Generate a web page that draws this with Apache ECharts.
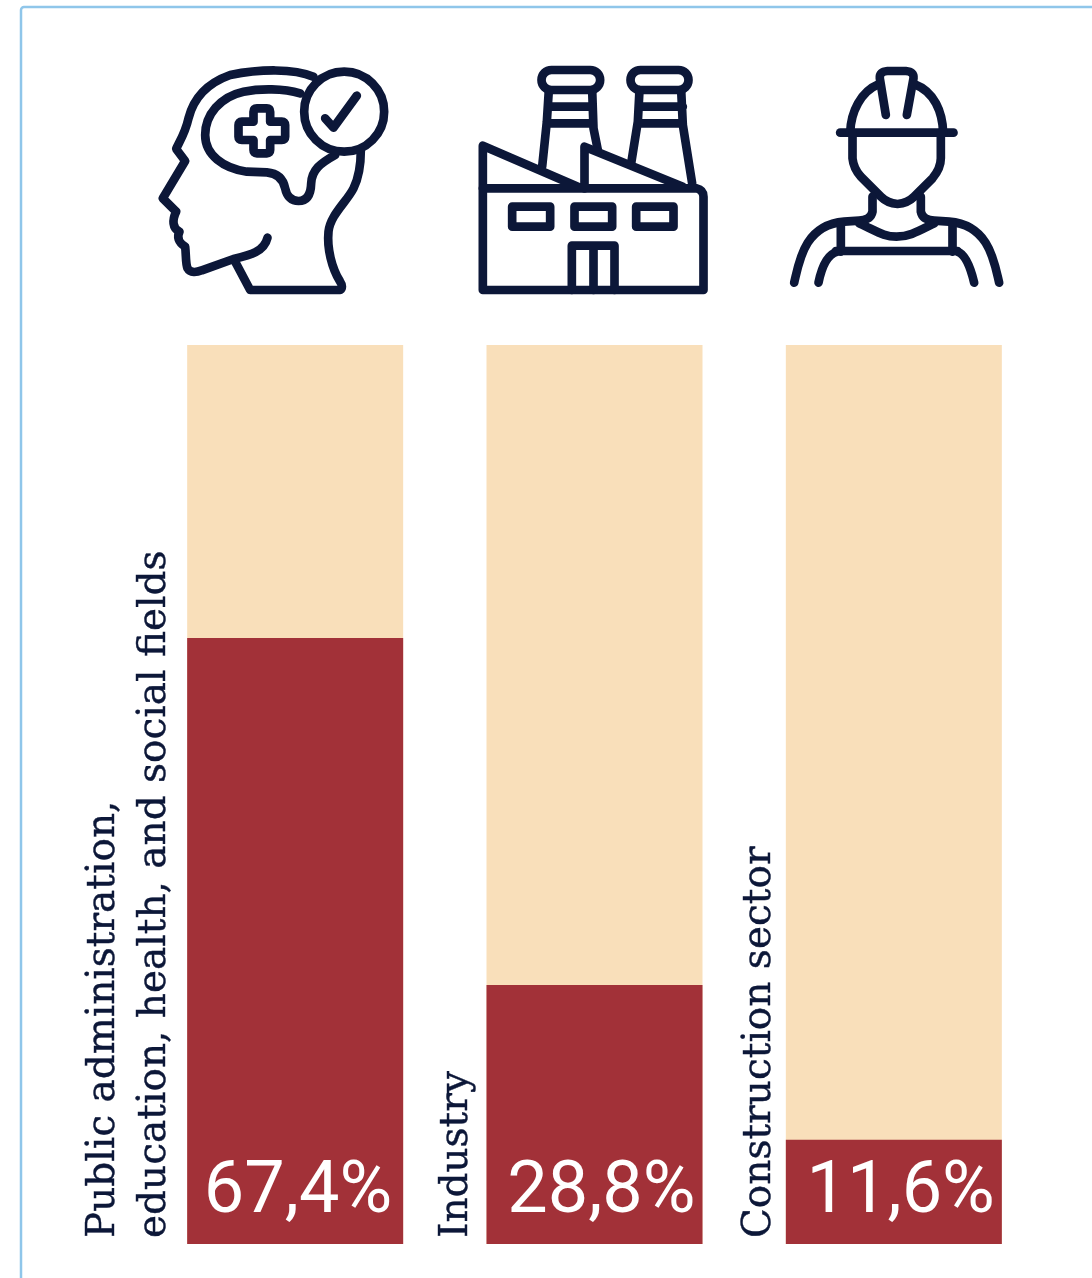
<!DOCTYPE html>
<html>
<head>
<meta charset="utf-8">
<title>Share of employees by sector</title>
<style>html,body{margin:0;padding:0;background:#fff}#chart{width:1092px;height:1278px}</style>
<script src="https://cdn.jsdelivr.net/npm/echarts@6/dist/echarts.min.js"></script>
</head>
<body>
<div id="chart"></div>
<script>
// Sector names and their shares, in percent
const categories = [
  'Public administration,\neducation, health, and social fields',
  'Industry',
  'Construction sector'
];
const shares = [67.4, 28.8, 11.6];

const NAVY = '#0c1738';
const RED = '#a23138';
const PEACH = '#f9dfba';

// Outline icons in a 3x drawing space, one list of subpaths per sector
const headIcon = [
  'M490 65C430 40 330 42 240 60C170 85 130 130 115 190C105 235 85 265 78 282L105 318L38 430L78 470C66 495 66 520 88 530C80 545 84 562 105 575C108 600 106 625 112 640C120 655 140 652 155 646L250 612C300 600 342 590 352 548',
  'M255 620L300 705L570 705C577 700 577 690 570 680C545 640 530 580 535 530C540 480 590 440 610 400C630 360 632 320 632 285',
  'M450 115C400 100 330 100 280 110C210 125 165 180 165 240C165 300 220 340 290 350L350 352C385 355 400 375 405 400C410 425 425 438 445 438C470 438 482 420 483 385C485 345 510 325 555 300',
  'M310 170Q310 160 320 160L350 160Q360 160 360 170L360 200L395 200Q405 200 405 210L405 245Q405 255 395 255L360 255L360 285Q360 295 350 295L320 295Q310 295 310 285L310 255L275 255Q265 255 265 245L265 210Q265 200 275 200L310 200Z',
  'M702 170A120 120 0 1 1 462 170A120 120 0 1 1 702 170Z',
  'M525 190L550 218L620 122'
];
const factoryIcon = [
  'M246 45L362 45A28 28 0 0 1 362 105L246 105A28 28 0 0 1 246 45Z',
  'M513 45L627 45A28 28 0 0 1 627 105L513 105A28 28 0 0 1 513 45Z',
  'M238 105L232 200L218 335M368 105L372 220L385 285M240 155L368 155M240 205L368 205',
  'M510 105L505 200L485 325M635 105L640 210L668 385M510 155L640 155M510 205L640 205',
  'M40 400L40 272L325 395M345 400L345 275L640 395',
  'M40 400L680 400Q702 405 702 425L702 705L40 705Z',
  'M128 455L242 455L242 515L128 515Z',
  'M315 455L428 455L428 515L315 515Z',
  'M500 455L612 455L612 515L500 515Z',
  'M307 705L307 572L435 572L435 705M372 572L372 705'
];
const workerIcon = [
  'M178 233L518 233',
  'M208 233C210 170 240 110 293 88M402 88C460 110 485 170 487 233',
  'M315 180L297 70Q295 50 320 48L375 48Q400 50 398 70L378 180',
  'M215 233L215 310Q218 340 240 365L300 425Q320 445 350 447Q380 445 400 425L455 370Q480 340 480 310L480 233',
  'M40 683C55 620 70 510 190 500L235 497Q270 495 275 470L275 425',
  'M655 683C640 620 625 510 505 500L460 497Q425 495 420 470L420 425',
  'M235 505C290 530 310 545 347 545C385 545 410 530 460 505',
  'M180 505L180 590M515 505L515 590M165 588L530 588',
  'M113 683Q130 600 170 590M580 683Q560 600 530 590'
];
const icons = [headIcon, factoryIcon, workerIcon];
const iconOffsets = [[-145, -290], [-125, -290], [-113, -290]];
const nameGaps = [7, 4, 0];
const valueNudges = [-2, 2, 2];

const chart = echarts.init(document.getElementById('chart'), null, {renderer: 'canvas'});

chart.setOption({
  backgroundColor: '#ffffff',
  animation: false,
  graphic: [{
    type: 'rect',
    shape: {x: 21, y: 7, width: 1300, height: 1500, r: 3},
    style: {fill: 'none', stroke: '#8fc6ea', lineWidth: 2.5},
    silent: true
  }],
  grid: {left: 145.5, right: 48.5, top: 345, bottom: 34},
  xAxis: {type: 'category', data: categories, show: false},
  yAxis: {type: 'value', min: 0, max: 100, show: false},
  series: [
    {
      type: 'bar',
      data: shares.map((v, i) => ({value: v, label: {offset: [valueNudges[i], -5]}})),
      barWidth: 216,
      showBackground: true,
      backgroundStyle: {color: PEACH},
      itemStyle: {color: RED},
      label: {
        show: true,
        position: 'insideBottomRight',
        distance: 9,
        color: '#ffffff',
        fontFamily: 'Roboto',
        fontWeight: 400,
        fontSize: 72,
        formatter: p => p.value.toFixed(1).replace('.', ',') + '%'
      }
    },
    {
      // Icon above each bar and rotated sector name on its left side
      type: 'custom',
      data: categories.map((c, i) => [i]),
      encode: {x: 0},
      silent: true,
      clip: false,
      renderItem: (params, api) => {
        const i = params.dataIndex;
        const top = api.coord([i, 100]);
        const bottom = api.coord([i, 0]);
        const off = iconOffsets[i];
        return {
          type: 'group',
          children: [
            {
              type: 'group',
              x: top[0] + off[0],
              y: top[1] + off[1],
              scaleX: 1 / 3,
              scaleY: 1 / 3,
              children: icons[i].map(d => ({
                type: 'path',
                shape: {pathData: d},
                style: {fill: 'none', stroke: NAVY, lineWidth: 26, lineCap: 'round', lineJoin: 'round'}
              }))
            },
            {
              type: 'text',
              x: top[0] - 108 - nameGaps[i],
              y: bottom[1] - 6,
              rotation: Math.PI / 2,
              style: {
                text: categories[i],
                fontFamily: '"DejaVu Serif"',
                fontSize: 39,
                lineHeight: 51,
                fill: NAVY,
                stroke: NAVY,
                lineWidth: 0.4,
                align: 'left',
                verticalAlign: 'bottom'
              }
            }
          ]
        };
      }
    }
  ]
});
</script>
</body>
</html>
